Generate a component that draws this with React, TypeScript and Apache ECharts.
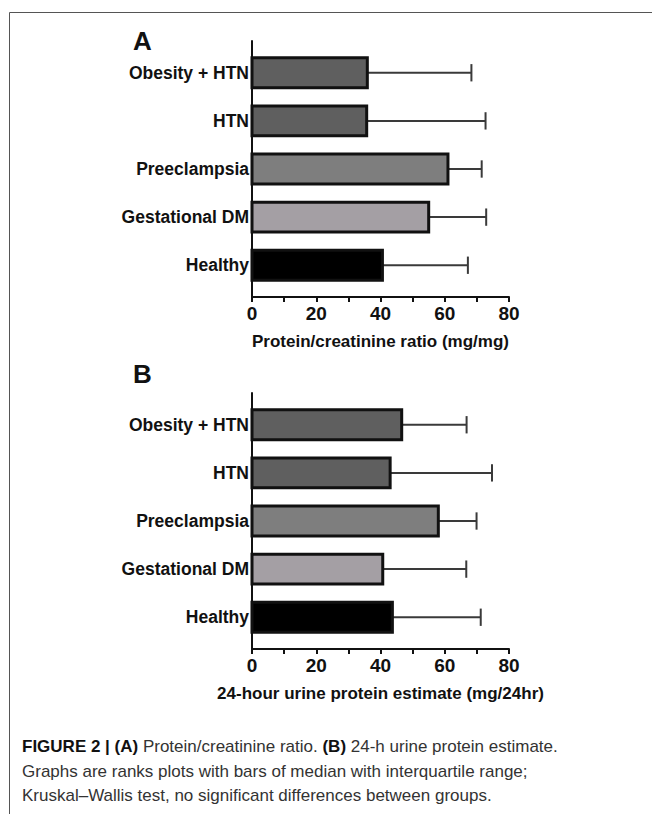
import React, { useEffect, useRef } from "react";
import * as echarts from "echarts";

// ---- data ----
const CATEGORIES = ["Obesity + HTN", "HTN", "Preeclampsia", "Gestational DM", "Healthy"];
const A_MEDIAN = [35.9, 35.7, 61.0, 55.0, 40.6];
const A_Q3 = [68.3, 72.7, 71.5, 72.9, 67.2];
const B_MEDIAN = [46.6, 43.0, 58.0, 40.7, 43.7];
const B_Q3 = [66.8, 74.7, 69.9, 66.7, 71.2];
const X_TICKS_MIN = 0;
const X_TICKS_MAX = 80;
const A_TITLE = "Protein/creatinine ratio (mg/mg)";
const B_TITLE = "24-hour urine protein estimate (mg/24hr)";
const PANEL_LABELS = ["A", "B"];
const CAPTION = [
  "{b|FIGURE 2 | (A)} Protein/creatinine ratio. {b|(B)} 24-h urine protein estimate.",
  "Graphs are ranks plots with bars of median with interquartile range;",
  "Kruskal\u2013Wallis test, no significant differences between groups.",
];

// ---- styles ----
const BAR_COLORS = ["#5f5f5f", "#5f5f5f", "#7e7e7e", "#a49fa4", "#000000"];
const FONT = "'Liberation Sans', Arial, Helvetica, sans-serif";
const BAR_H = 0.62;
const CAP_H = 0.36;

function makeAxes(g: number, title: string) {
  const x = {
    gridIndex: g,
    type: "value",
    min: X_TICKS_MIN,
    max: X_TICKS_MAX,
    interval: 10,
    axisLine: { show: true, onZero: false, lineStyle: { color: "#111", width: 2 } },
    axisTick: { show: true, length: 5, lineStyle: { color: "#111", width: 2 } },
    axisLabel: {
      formatter: (v: number) => (v % 20 === 0 ? String(v) : ""),
      fontSize: 19,
      fontWeight: "bold",
      fontFamily: FONT,
      color: "#111",
      margin: 7,
    },
    splitLine: { show: false },
    name: title,
    nameLocation: "middle",
    nameGap: 36,
    nameTextStyle: { fontSize: 17, fontWeight: "bold", fontFamily: FONT, color: "#111" },
  };
  const y = {
    gridIndex: g,
    type: "value",
    min: -0.66,
    max: 4.66,
    inverse: true,
    axisLine: { show: true, onZero: false, lineStyle: { color: "#111", width: 2 } },
    axisTick: { show: false },
    splitLine: { show: false },
    axisLabel: {
      customValues: CATEGORIES.map((_, i) => i),
      formatter: (v: number) => {
        const i = Math.round(v);
        return Math.abs(v - i) < 1e-6 && CATEGORIES[i] ? CATEGORIES[i] : "";
      },
      fontSize: 17.5,
      fontWeight: "bold",
      fontFamily: FONT,
      color: "#111",
      margin: 3,
    },
  };
  return { x, y };
}

function barSeries(g: number, medians: number[]) {
  return {
    type: "custom",
    xAxisIndex: g,
    yAxisIndex: g,
    z: 3,
    data: medians.map((m, i) => [m, i]),
    renderItem: (_p: any, api: any) => {
      const v = api.value(0);
      const i = api.value(1);
      const p0 = api.coord([0, i]);
      const p1 = api.coord([v, i]);
      const h = Math.abs(api.size([0, BAR_H])[1]);
      return {
        type: "rect",
        shape: { x: p0[0], y: p0[1] - h / 2, width: p1[0] - p0[0], height: h },
        style: { fill: BAR_COLORS[i], stroke: "#111", lineWidth: 3 },
      };
    },
  };
}

function errSeries(g: number, medians: number[], q3: number[]) {
  return {
    type: "custom",
    xAxisIndex: g,
    yAxisIndex: g,
    z: 2,
    data: medians.map((m, i) => [m, q3[i], i]),
    renderItem: (_p: any, api: any) => {
      const m = api.value(0);
      const u = api.value(1);
      const i = api.value(2);
      const a = api.coord([m, i]);
      const b = api.coord([u, i]);
      const h = Math.abs(api.size([0, CAP_H])[1]);
      const st = { stroke: "#3a3a3a", lineWidth: 2 };
      return {
        type: "group",
        children: [
          { type: "line", shape: { x1: a[0], y1: a[1], x2: b[0], y2: b[1] }, style: st },
          { type: "line", shape: { x1: b[0], y1: b[1] - h / 2, x2: b[0], y2: b[1] + h / 2 }, style: st },
        ],
      };
    },
  };
}

export default function App() {
  const ref = useRef<HTMLDivElement>(null);
  useEffect(() => {
    if (!ref.current) return;
    const chart = echarts.init(ref.current, null, { renderer: "svg" });
    const a = makeAxes(0, A_TITLE);
    const b = makeAxes(1, B_TITLE);
    chart.setOption({
      animation: false,
      backgroundColor: "#ffffff",
      grid: [
        { left: 252, width: 257, top: 41, height: 256, containLabel: false },
        { left: 252, width: 257, top: 393, height: 256, containLabel: false },
      ],
      xAxis: [a.x, b.x],
      yAxis: [a.y, b.y],
      series: [
        errSeries(0, A_MEDIAN, A_Q3),
        barSeries(0, A_MEDIAN),
        errSeries(1, B_MEDIAN, B_Q3),
        barSeries(1, B_MEDIAN),
      ],
      graphic: [
        { type: "line", shape: { x1: 9.5, y1: 12.5, x2: 652, y2: 12.5 }, style: { stroke: "#555", lineWidth: 1 } },
        { type: "line", shape: { x1: 9.5, y1: 12.5, x2: 9.5, y2: 814 }, style: { stroke: "#555", lineWidth: 1 } },
        {
          type: "text",
          left: 133,
          top: 28,
          style: { text: PANEL_LABELS[0], fontSize: 26, fontWeight: "bold", fontFamily: FONT, fill: "#111" },
        },
        {
          type: "text",
          left: 133,
          top: 361,
          style: { text: PANEL_LABELS[1], fontSize: 26, fontWeight: "bold", fontFamily: FONT, fill: "#111" },
        },
        ...CAPTION.map((line, k) => ({
          type: "text",
          left: 22,
          top: 738 + k * 24.5,
          style: {
            text: line,
            fontSize: 17,
            fontFamily: FONT,
            fill: "#333",
            rich: {
              b: { fontSize: 17, fontFamily: FONT, fontWeight: "bold", fill: "#111" },
            },
          },
        })),
      ],
    });
    return () => chart.dispose();
  }, []);
  return (
    <div
      ref={ref}
      style={{ position: "fixed", left: 0, top: 0, width: 652, height: 814, background: "#fff" }}
    />
  );
}
